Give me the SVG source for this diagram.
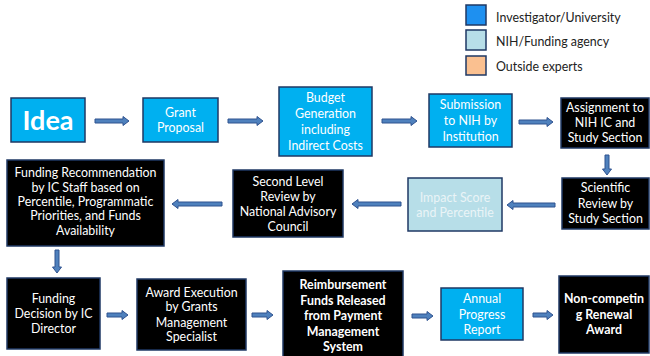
<svg xmlns="http://www.w3.org/2000/svg" width="650" height="356" viewBox="0 0 650 356">
<style>
  .bl { fill: #00b0f0; stroke: #1f3864; stroke-width: 1.5; }
  .lb { fill: #b7dee8; stroke: #1f3864; stroke-width: 1.5; }
  .bk { fill: #000000; stroke: #1f3864; stroke-width: 1.5; }
  .t { font-family: Lato, "Open Sans", sans-serif; font-size: 12.4px; fill: #ffffff; text-anchor: middle; }
  .tb { font-weight: bold; }
  .tf { fill: #eaf4f7; }
  .lg { font-family: Lato, "Open Sans", sans-serif; font-size: 12.4px; fill: #222222; }
  .arr { fill: #4f81bd; stroke: #2f528f; stroke-width: 1; }
</style>
<rect width="650" height="356" fill="#ffffff"/>

<g id="legend">
  <rect x="466" y="5" width="20" height="20" fill="#1e90f0" stroke="#1f3864" stroke-width="1.5"/>
  <rect x="466" y="30" width="20" height="20" fill="#b7dee8" stroke="#1f3864" stroke-width="1.5"/>
  <rect x="466" y="56" width="20" height="19" fill="#fac090" stroke="#1f3864" stroke-width="1.5"/>
  <text class="lg" x="496" y="22">Investigator/University</text>
  <text class="lg" x="496" y="46">NIH/Funding agency</text>
  <text class="lg" x="496" y="71">Outside experts</text>
</g>

<g id="connectors">
  <path class="arr" d="M95,119 H123 V116.5 L129,121 L123,125.5 V123 H95 Z"/>
  <path class="arr" d="M228,119 H257 V116.5 L263,121 L257,125.5 V123 H228 Z"/>
  <path class="arr" d="M382,119 H411 V116.5 L417,121 L411,125.5 V123 H382 Z"/>
  <path class="arr" d="M519,120 H547 V117.5 L553,122 L547,126.5 V124 H519 Z"/>
  <path class="arr" d="M605,155 V169 H602.5 L607,175 L611.5,169 H609 V155 Z"/>
  <path class="arr" d="M555,203 H513 V200.5 L507,205 L513,209.5 V207 H555 Z"/>
  <path class="arr" d="M401,202 H358 V199.5 L352,204 L358,208.5 V206 H401 Z"/>
  <path class="arr" d="M222,202 H178 V199.5 L172,204 L178,208.5 V206 H222 Z"/>
  <path class="arr" d="M55,250 V267 H52.5 L57,273 L61.5,267 H59 V250 Z"/>
  <path class="arr" d="M107,313 H122 V310.5 L128,315 L122,319.5 V317 H107 Z"/>
  <path class="arr" d="M252,313 H267 V310.5 L273,315 L267,319.5 V317 H252 Z"/>
  <path class="arr" d="M412,314 H427 V311.5 L433,316 L427,320.5 V318 H412 Z"/>
  <path class="arr" d="M533,313 H547 V310.5 L553,315 L547,319.5 V317 H533 Z"/>
</g>

<g id="idea">
  <rect class="bl" x="11" y="98" width="74" height="44"/>
  <text class="t tb" x="48" y="130" style="font-size:27px">Idea</text>
</g>
<g id="grant-proposal">
  <rect class="bl" x="143" y="98" width="75" height="44"/>
  <text class="t" x="180.5" y="117">Grant</text>
  <text class="t" x="180.5" y="132">Proposal</text>
</g>
<g id="budget">
  <rect class="bl" x="279" y="87" width="93" height="69"/>
  <text class="t" x="325.5" y="102">Budget</text>
  <text class="t" x="325.5" y="118">Generation</text>
  <text class="t" x="325.5" y="134">including</text>
  <text class="t" x="325.5" y="150">Indirect Costs</text>
</g>
<g id="submission">
  <rect class="bl" x="429" y="94" width="83" height="53"/>
  <text class="t" x="470.5" y="109">Submission</text>
  <text class="t" x="470.5" y="125">to NIH by</text>
  <text class="t" x="470.5" y="141">Institution</text>
</g>
<g id="assignment">
  <rect class="bk" x="561" y="98" width="88" height="50"/>
  <text class="t" x="605" y="112">Assignment to</text>
  <text class="t" x="605" y="127">NIH IC and</text>
  <text class="t" x="605" y="142">Study Section</text>
</g>
<g id="scientific-review">
  <rect class="bk" x="562" y="178" width="87" height="51"/>
  <text class="t" x="605.5" y="192">Scientific</text>
  <text class="t" x="605.5" y="208">Review by</text>
  <text class="t" x="605.5" y="223">Study Section</text>
</g>
<g id="impact-score">
  <rect class="lb" x="408" y="178" width="94" height="53"/>
  <text class="t tf" x="455" y="202">Impact Score</text>
  <text class="t tf" x="455" y="217">and Percentile</text>
</g>
<g id="second-level-review">
  <rect class="bk" x="233" y="170" width="110" height="67"/>
  <text class="t" x="288" y="186">Second Level</text>
  <text class="t" x="288" y="201">Review by</text>
  <text class="t" x="288" y="216">National Advisory</text>
  <text class="t" x="288" y="231">Council</text>
</g>
<g id="funding-recommendation">
  <rect class="bk" x="7" y="160" width="157" height="86"/>
  <text class="t" x="85.5" y="177">Funding Recommendation</text>
  <text class="t" x="85.5" y="192">by IC Staff based on</text>
  <text class="t" x="85.5" y="206">Percentile, Programmatic</text>
  <text class="t" x="85.5" y="220">Priorities, and Funds</text>
  <text class="t" x="85.5" y="235">Availability</text>
</g>
<g id="funding-decision">
  <rect class="bk" x="7" y="278" width="93" height="71"/>
  <text class="t" x="53.5" y="303">Funding</text>
  <text class="t" x="53.5" y="318">Decision by IC</text>
  <text class="t" x="53.5" y="333">Director</text>
</g>
<g id="award-execution">
  <rect class="bk" x="137" y="279" width="109" height="71"/>
  <text class="t" x="191.5" y="297">Award Execution</text>
  <text class="t" x="191.5" y="311">by Grants</text>
  <text class="t" x="191.5" y="327">Management</text>
  <text class="t" x="191.5" y="341">Specialist</text>
</g>
<g id="reimbursement">
  <rect class="bk" x="283" y="271" width="120" height="92"/>
  <text class="t tb" x="343" y="289">Reimbursement</text>
  <text class="t tb" x="343" y="305">Funds Released</text>
  <text class="t tb" x="343" y="320">from Payment</text>
  <text class="t tb" x="343" y="336">Management</text>
  <text class="t tb" x="343" y="351">System</text>
</g>
<g id="annual-progress-report">
  <rect class="bl" x="441" y="288" width="82" height="52"/>
  <text class="t" x="482" y="303">Annual</text>
  <text class="t" x="482" y="319">Progress</text>
  <text class="t" x="482" y="334">Report</text>
</g>
<g id="non-competing-renewal">
  <rect class="bk" x="559" y="276" width="90" height="77"/>
  <text class="t tb" x="604" y="303">Non-competin</text>
  <text class="t tb" x="604" y="319">g Renewal</text>
  <text class="t tb" x="604" y="334">Award</text>
</g>
</svg>
